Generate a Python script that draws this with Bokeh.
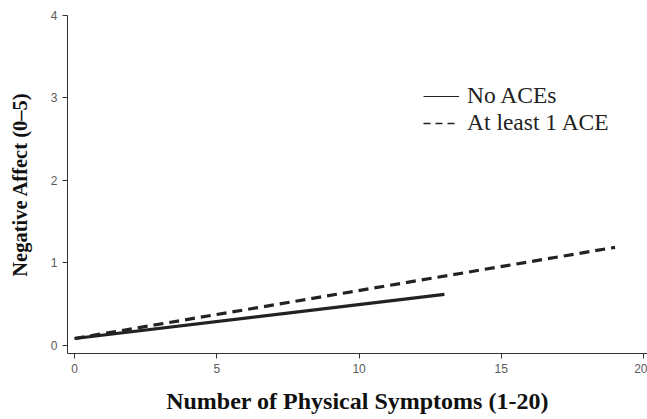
from bokeh.plotting import figure
from bokeh.models import Range1d, Legend, LegendItem, FixedTicker
from bokeh.embed import file_html
from bokeh.resources import INLINE

# Data
no_ace_x = [0, 13]
no_ace_y = [0.085, 0.62]
ace_x = [0, 19]
ace_y = [0.085, 1.19]
x_ticks = [0, 5, 10, 15, 20]
y_ticks = [0, 1, 2, 3, 4]
series_labels = ["No ACEs", "At least 1 ACE"]

p = figure(width=647, height=419, output_backend="svg", toolbar_location=None,
           x_range=Range1d(-0.25, 20.14), y_range=Range1d(-0.097, 4.0),
           min_border_left=67, min_border_right=0, min_border_top=15, min_border_bottom=66)
p.outline_line_color = None
p.grid.visible = False
p.background_fill_color = "white"
p.border_fill_color = "white"

r1 = p.line(no_ace_x, no_ace_y, line_color="#222222", line_width=3.2)
r2 = p.line(ace_x, ace_y, line_color="#222222", line_width=3.2, line_dash="10 6")

# legend-only thin symbols (hidden in the plot)
l1 = p.line(no_ace_x, no_ace_y, line_color="#222222", line_width=1.2, visible=False)
l2 = p.line(ace_x, ace_y, line_color="#222222", line_width=1.4, line_dash="7 5", visible=False)

for ax in (p.xaxis[0], p.yaxis[0]):
    ax.axis_line_color = "#333333"
    ax.axis_line_width = 1
    ax.major_tick_line_color = "#333333"
    ax.major_tick_out = 5
    ax.major_tick_in = 0
    ax.minor_tick_line_color = None
    ax.major_label_text_font = "Liberation Sans"
    ax.major_label_text_font_size = "12px"
    ax.major_label_text_color = "#5a5a5a"
    ax.major_label_standoff = 5
    ax.axis_label_text_font = "Liberation Serif"
    ax.axis_label_text_font_style = "bold"
    ax.axis_label_text_color = "#111111"

p.xaxis[0].axis_label_text_font_size = "24px"
p.yaxis[0].axis_label_text_font_size = "20.5px"
p.xaxis[0].ticker = FixedTicker(ticks=x_ticks)
p.yaxis[0].ticker = FixedTicker(ticks=y_ticks)
p.xaxis[0].axis_label = "Number of Physical Symptoms (1-20)"
p.yaxis[0].axis_label = "Negative Affect (0\u20135)"
p.xaxis[0].axis_label_standoff = 12
p.yaxis[0].axis_label_standoff = 17
p.yaxis[0].major_label_orientation = "horizontal"

legend = Legend(items=[LegendItem(label=series_labels[0], renderers=[l1]),
                       LegendItem(label=series_labels[1], renderers=[l2])],
                location=(356, 217))
legend.border_line_color = None
legend.background_fill_alpha = 0
legend.inactive_fill_alpha = 0
legend.label_text_font = "Liberation Serif"
legend.label_text_font_size = "23.5px"
legend.label_text_color = "#222222"
legend.glyph_width = 36
legend.glyph_height = 26
legend.label_height = 26
legend.label_standoff = 8
legend.spacing = 0
legend.padding = 0
legend.margin = 0
p.add_layout(legend)

open("out.html", "w").write(file_html(p, INLINE))
